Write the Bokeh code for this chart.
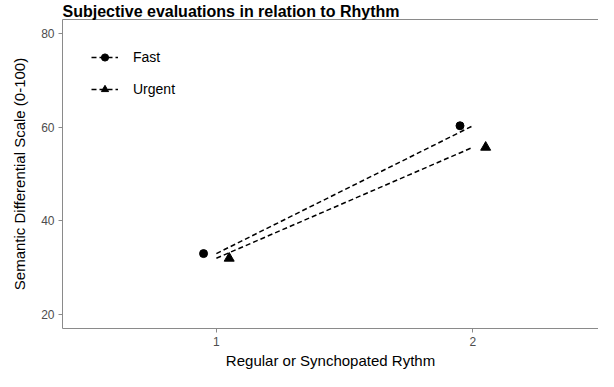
from bokeh.plotting import figure
from bokeh.models import Range1d, LinearAxis, FixedTicker, Legend, LegendItem, ColumnDataSource, Spacer
from bokeh.layouts import row
from bokeh.embed import file_html
from bokeh.resources import INLINE

# Data
rhythm = [1, 2]
fast = [33.0, 60.3]
urgent = [32.0, 55.7]
dodge = 0.05
y_ticks = [20, 40, 60, 80]
x_ticks = [1, 2]

FONT = "Liberation Sans"
AXIS_GRAY = "#8a8a8a"

p = figure(width=590, height=371, output_backend="svg", toolbar_location=None,
           x_range=Range1d(0.4, 2.49), y_range=Range1d(17, 83),
           min_border_left=0, min_border_right=0, min_border_top=0, min_border_bottom=0)
p.title.text = "Subjective evaluations in relation to Rhythm"
p.title.text_font = FONT
p.title.text_font_size = "16px"
p.title.text_font_style = "bold"
p.title.text_color = "black"
p.title.offset = 0
p.title.standoff = 0

p.xgrid.visible = False
p.ygrid.visible = False
p.outline_line_color = None
p.background_fill_color = "white"
p.border_fill_color = "white"

for ax in (p.xaxis[0], p.yaxis[0]):
    ax.axis_line_color = AXIS_GRAY
    ax.major_tick_line_color = AXIS_GRAY
    ax.major_tick_in = 0
    ax.major_tick_out = 4
    ax.minor_tick_line_color = None
    ax.major_label_text_font = FONT
    ax.major_label_text_font_size = "12px"
    ax.major_label_text_color = "#4d4d4d"
    ax.axis_label_text_font = FONT
    ax.axis_label_text_font_size = "15px"
    ax.axis_label_text_font_style = "normal"
    ax.axis_label_text_color = "black"

p.xaxis[0].ticker = FixedTicker(ticks=x_ticks)
p.yaxis[0].ticker = FixedTicker(ticks=y_ticks)
p.xaxis[0].axis_label = "Regular or Synchopated Rythm"
p.yaxis[0].axis_label = "Semantic Differential Scale (0-100)"
p.xaxis[0].major_label_standoff = 4
p.yaxis[0].major_label_standoff = 4
p.xaxis[0].axis_label_standoff = 3
p.yaxis[0].axis_label_standoff = 10

# top border (no right border visible in reference)
top = LinearAxis(ticker=FixedTicker(ticks=[]), axis_line_color=AXIS_GRAY,
                 major_tick_line_color=None, minor_tick_line_color=None,
                 major_label_text_font_size="0px")
p.add_layout(top, "above")

src_f = ColumnDataSource(dict(x=rhythm, y=fast, xd=[v - dodge for v in rhythm]))
src_u = ColumnDataSource(dict(x=rhythm, y=urgent, xd=[v + dodge for v in rhythm]))

lf = p.line("x", "y", source=src_f, line_color="black", line_width=1.5, line_dash="5 3")
lu = p.line("x", "y", source=src_u, line_color="black", line_width=1.5, line_dash="5 3")
sf = p.scatter("xd", "y", source=src_f, marker="circle", size=8, color="black")
su = p.scatter("xd", "y", source=src_u, marker="triangle", size=10, color="black")

legend = Legend(items=[LegendItem(label="Fast", renderers=[lf, sf]),
                       LegendItem(label="Urgent", renderers=[lu, su])],
                location="top_left", margin=30, padding=5, spacing=14,
                glyph_width=27, glyph_height=18, label_standoff=15,
                label_text_font=FONT, label_text_font_size="14px",
                label_text_color="black",
                border_line_color=None, background_fill_alpha=0)
legend.margin = 29
p.add_layout(legend, "center")

layout = row(Spacer(width=8, height=371), p)
open("out.html", "w").write(file_html(layout, INLINE))
